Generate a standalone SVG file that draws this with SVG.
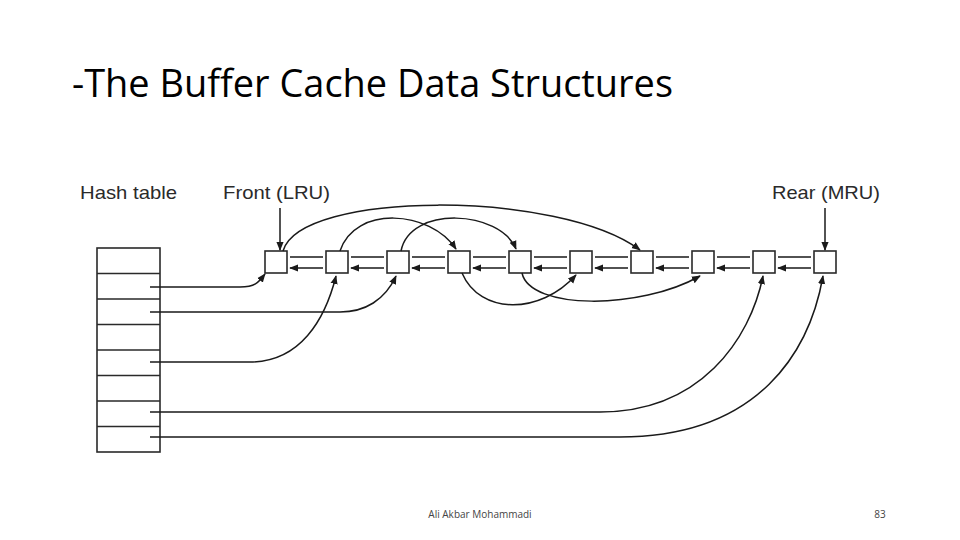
<svg xmlns="http://www.w3.org/2000/svg" width="960" height="540" viewBox="0 0 960 540">
<defs>
<marker id="ah" viewBox="0 0 10 10" refX="9" refY="5" markerWidth="9" markerHeight="9" markerUnits="userSpaceOnUse" orient="auto"><path d="M0,1 L10,5 L0,9 Z" fill="#1a1a1a"/></marker>
</defs>
<style>
.lbl{font-family:"Liberation Sans",Arial,sans-serif;font-size:19px;fill:#2a2a2a}
.bx{fill:#fff;stroke:#2a2a2a;stroke-width:1.6}
.c{fill:none;stroke:#1a1a1a;stroke-width:1.5;marker-end:url(#ah)}
</style>
<rect width="960" height="540" fill="#fff"/>
<text x="72" y="97" font-family="'Open Sans',sans-serif" font-size="38" textLength="601" lengthAdjust="spacingAndGlyphs" fill="#000">-The Buffer Cache Data Structures</text>
<text class="lbl" x="80" y="199" textLength="97" lengthAdjust="spacingAndGlyphs">Hash table</text>
<text class="lbl" x="223" y="199" textLength="107" lengthAdjust="spacingAndGlyphs">Front (LRU)</text>
<text class="lbl" x="772" y="199" textLength="108" lengthAdjust="spacingAndGlyphs">Rear (MRU)</text>
<g id="hashtable" stroke="#2a2a2a" stroke-width="1.6" fill="#fff">
<rect x="97" y="248" width="63" height="204"/>
<path d="M97,273.5H160M97,299H160M97,324.5H160M97,350H160M97,375.5H160M97,401H160M97,426.5H160"/>
</g>
<g id="nodes">
<rect class="bx" x="265" y="251" width="22" height="22"/>
<rect class="bx" x="326" y="251" width="22" height="22"/>
<rect class="bx" x="387" y="251" width="22" height="22"/>
<rect class="bx" x="448" y="251" width="22" height="22"/>
<rect class="bx" x="509" y="251" width="22" height="22"/>
<rect class="bx" x="570" y="251" width="22" height="22"/>
<rect class="bx" x="631" y="251" width="22" height="22"/>
<rect class="bx" x="692" y="251" width="22" height="22"/>
<rect class="bx" x="753" y="251" width="22" height="22"/>
<rect class="bx" x="814" y="251" width="22" height="22"/>
</g>
<g id="connectors">
<path class="c" d="M280,208V250"/>
<path class="c" d="M825,208V250"/>
<g id="list">
<path class="c" d="M290,257H323M323,268H290"/>
<path class="c" d="M351,257H384M384,268H351"/>
<path class="c" d="M412,257H445M445,268H412"/>
<path class="c" d="M473,257H506M506,268H473"/>
<path class="c" d="M534,257H567M567,268H534"/>
<path class="c" d="M595,257H628M628,268H595"/>
<path class="c" d="M656,257H689M689,268H656"/>
<path class="c" d="M717,257H750M750,268H717"/>
<path class="c" d="M778,257H811M811,268H778"/>
</g>
<path class="c" d="M283,251C300,190 560,190 640,250"/>
<path class="c" d="M340,251C355,205 430,210 456,249"/>
<path class="c" d="M401,251C410,205 500,210 516,249"/>
<path class="c" d="M462,273C480,315 540,315 576,275"/>
<path class="c" d="M522,273C530,310 640,310 700,276"/>
<path class="c" d="M150,287H240C255,287 258,283 265,274"/>
<path class="c" d="M150,312H340C365,312 385,300 396,276"/>
<path class="c" d="M150,362H250C300,362 325,320 336,276"/>
<path class="c" d="M150,412H600C700,412 750,340 763,276"/>
<path class="c" d="M150,437H620C760,437 810,350 823,276"/>
</g>
<text x="480" y="518" text-anchor="middle" font-family="'Open Sans',sans-serif" font-size="10" fill="#444">Ali Akbar Mohammadi</text>
<text x="880" y="518" text-anchor="middle" font-family="'Open Sans',sans-serif" font-size="10" fill="#444">83</text>
</svg>
